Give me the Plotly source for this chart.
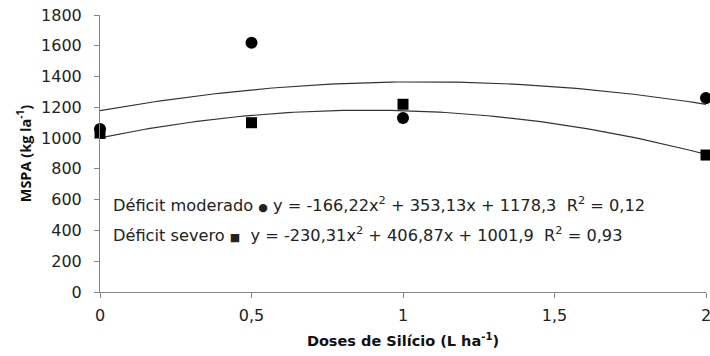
import numpy as np
import plotly.graph_objects as go

doses = [0, 0.5, 1, 2]
moderado = [1060, 1620, 1130, 1260]
severo = [1030, 1100, 1220, 890]
coef_moderado = [-166.22, 353.13, 1178.3]
coef_severo = [-230.31, 406.87, 1001.9]
x_ticks = [0, 0.5, 1, 1.5, 2]
x_tick_labels = ["0", "0,5", "1", "1,5", "2"]
y_ticks = [0, 200, 400, 600, 800, 1000, 1200, 1400, 1600, 1800]

xs = np.linspace(0, 2, 101)
fit_mod = np.polyval(coef_moderado, xs)
fit_sev = np.polyval(coef_severo, xs)

fig = go.Figure()
line_style = dict(color="#333333", width=1.2)
fig.add_trace(go.Scatter(x=xs, y=fit_mod, mode="lines", line=line_style, showlegend=False))
fig.add_trace(go.Scatter(x=xs, y=fit_sev, mode="lines", line=line_style, showlegend=False))
fig.add_trace(go.Scatter(x=doses, y=severo, mode="markers",
                         marker=dict(symbol="square", size=11, color="black"),
                         cliponaxis=False, showlegend=False))
fig.add_trace(go.Scatter(x=doses, y=moderado, mode="markers",
                         marker=dict(symbol="circle", size=12, color="black"),
                         cliponaxis=False, showlegend=False))

tick_font = dict(family="DejaVu Sans", size=16, color="#222222")
fig.update_layout(
    width=713, height=356,
    margin=dict(l=100, r=2, t=15, b=64),
    plot_bgcolor="white", paper_bgcolor="white",
    font=dict(family="DejaVu Sans", size=14, color="#222222"),
    xaxis=dict(range=[0, 2], tickvals=x_ticks, ticktext=x_tick_labels,
               showgrid=False, zeroline=False, showline=True, linecolor="#868686",
               linewidth=1, ticks="outside", ticklen=5, tickcolor="#868686",
               tickfont=tick_font, ticklabelstandoff=4, ticklabeloverflow="allow",
               title=dict(text="<b>Doses de Silício (L ha<sup>-1</sup>)</b>",
                          font=dict(family="DejaVu Sans", size=14.5, color="#111111"),
                          standoff=11)),
    yaxis=dict(range=[0, 1800], tickvals=y_ticks,
               showgrid=False, zeroline=False, showline=True, linecolor="#868686",
               linewidth=1, ticks="outside", ticklen=5, tickcolor="#868686",
               tickfont=tick_font, ticklabelstandoff=9, ticklabeloverflow="allow",
               title=dict(text="<b>MSPA (kg la<sup>-1</sup>)</b>",
                          font=dict(family="Open Sans", size=14.5, color="#111111"),
                          standoff=6)),
)

ann_font = dict(family="DejaVu Sans", size=16.2, color="#222222")
fig.add_annotation(x=0.035, y=572, xref="x", yref="y", xanchor="left", showarrow=False,
                   text="Déficit moderado <span style='font-size:11px'>●</span> y = -166,22x<sup>2</sup> + 353,13x + 1178,3  R<sup>2</sup> = 0,12",
                   font=ann_font)
fig.add_annotation(x=0.035, y=377, xref="x", yref="y", xanchor="left", showarrow=False,
                   text="Déficit severo <span style='font-size:11px'>■</span>  y = -230,31x<sup>2</sup> + 406,87x + 1001,9  R<sup>2</sup> = 0,93",
                   font=ann_font)

post = (
    "document.documentElement.style.overflow='hidden';"
    "document.body.style.margin='0';"
    "document.body.style.overflow='hidden';"
    "var gd=document.getElementById('{plot_id}');"
    "gd.style.overflow='hidden';"
    "if(gd.parentNode){gd.parentNode.style.overflow='hidden';gd.parentNode.style.width='710px';gd.parentNode.style.height='356px';}"
    "gd.querySelectorAll('svg.main-svg').forEach(function(s){s.style.overflow='hidden';});"
)
fig.write_html("out.html", config={"displayModeBar": False}, post_script=post)
